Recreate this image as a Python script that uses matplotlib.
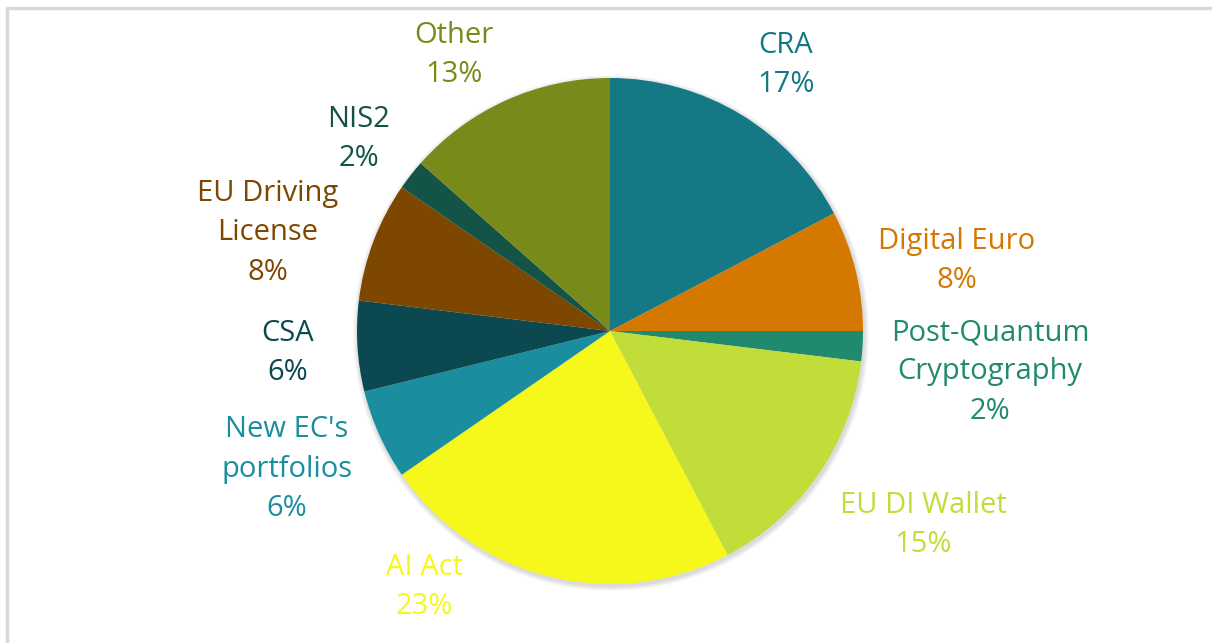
import matplotlib
matplotlib.use('Agg')
import matplotlib.pyplot as plt
from matplotlib.patches import Rectangle, Circle

# responses per topic
labels = ['CRA', 'Digital Euro', 'Post-Quantum\nCryptography', 'EU DI Wallet', 'AI Act',
          "New EC's\nportfolios", 'CSA', 'EU Driving\nLicense', 'NIS2', 'Other']
counts = [9, 4, 1, 8, 12, 3, 3, 4, 1, 7]
colors = ['#147885', '#D47800', '#218A6E', '#C0DD3A', '#F6F71A',
          '#1A8E9E', '#0C4850', '#7E4700', '#135447', '#788B1A']

# label centres in pixels (x, y from top)
label_pos = [(786, 65), (957, 261), (990, 372), (923, 525), (424, 587),
             (287, 469), (288, 353), (268, 233), (359, 139), (454, 55)]

W, H = 1212, 643
fig = plt.figure(figsize=(W / 100, H / 100), dpi=100)
ax = fig.add_axes([0, 0, 1, 1])

# light frame (only top/left visible)
fig.patches.append(Rectangle((7 / W, -0.1), 1.2, (H - 8) / H + 0.1, transform=fig.transFigure,
                             fill=False, edgecolor='#d9d9d9', linewidth=2.5))

cx, cy, r = 610, H - 331, 253
# soft shadow
for i in range(6):
    ax.add_patch(Circle((cx + 1, cy - 2), r + 1 + i * 0.8, color='#000000', alpha=0.025, lw=0, zorder=0))

ax.pie(counts, colors=colors, startangle=90, counterclock=False, center=(cx, cy), radius=r,
       wedgeprops=dict(linewidth=0), frame=True)
ax.set_xlim(0, W)
ax.set_ylim(0, H)
ax.set_aspect('equal')
ax.axis('off')

total = sum(counts)
for lab, c, col, (x, y) in zip(labels, counts, colors, label_pos):
    txt = '%s\n%d%%' % (lab, round(c / total * 100))
    ax.text(x, H - y, txt, ha='center', va='center', fontsize=21, color=col,
            family='Open Sans', linespacing=1.47)

fig.savefig('out.png', dpi=100)
